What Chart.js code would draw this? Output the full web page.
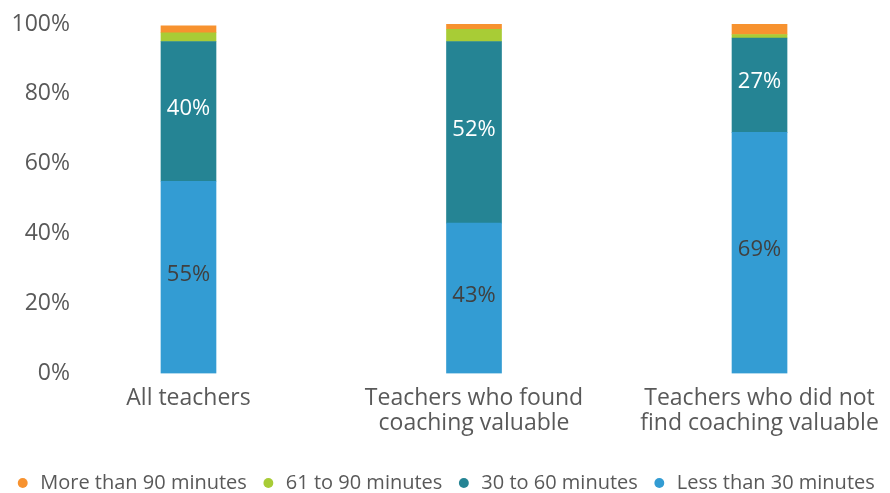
<!DOCTYPE html>
<html>
<head>
<meta charset="utf-8">
<script src="https://cdn.jsdelivr.net/npm/chart.js@4.4.0/dist/chart.umd.min.js"></script>
<style>
  html, body { margin: 0; padding: 0; background: #fff; }
  #wrap { width: 890px; height: 493px; }
</style>
</head>
<body>
<div id="wrap"><canvas id="chart"></canvas></div>
<script>
// categories (wrapped the way the original shows them)
const categories = [
  ['All teachers'],
  ['Teachers who found', 'coaching valuable'],
  ['Teachers who did not', 'find coaching valuable']
];
const seriesNames = ['Less than 30 minutes', '30 to 60 minutes', '61 to 90 minutes', 'More than 90 minutes'];
const under30 = [55, 43, 69];
const from30to60 = [40, 52, 27];
const from61to90 = [2.5, 3.5, 1];
const over90 = [2, 1.5, 3];
const yTicks = [0, 20, 40, 60, 80, 100];

const colors = ['#339CD3', '#258494', '#A8CC36', '#F7922F'];
const labelColors = ['#404040', '#ffffff', null, null];

Chart.defaults.font.family = '"Open Sans", sans-serif';
Chart.defaults.color = '#595959';

// percent labels inside the two big segments
const segmentLabels = {
  id: 'segmentLabels',
  afterDatasetsDraw(chart) {
    const ctx = chart.ctx;
    ctx.save();
    ctx.font = '22px "Open Sans"';
    ctx.textAlign = 'center';
    ctx.textBaseline = 'middle';
    chart.data.datasets.forEach((ds, di) => {
      if (!ds.labelColor) return;
      chart.getDatasetMeta(di).data.forEach((bar, i) => {
        const p = bar.getCenterPoint();
        ctx.fillStyle = ds.labelColor;
        ctx.fillText(Math.round(ds.data[i].y) + '%', p.x, p.y - 3);
      });
    });
    ctx.restore();
  }
};

const series = [under30, from30to60, from61to90, over90];

new Chart(document.getElementById('chart'), {
  type: 'bar',
  data: {
    datasets: series.map((vals, k) => ({
      label: seriesNames[k],
      data: vals.map((v, i) => ({ x: i, y: v })),
      backgroundColor: colors[k],
      labelColor: labelColors[k],
      barThickness: 55,
      borderWidth: 0
    }))
  },
  options: {
    responsive: true,
    maintainAspectRatio: false,
    animation: false,
    layout: { padding: { top: 24, right: 0, left: 0, bottom: -10 } },
    plugins: {
      legend: {
        position: 'bottom',
        reverse: true,
        labels: {
          usePointStyle: true,
          pointStyle: 'circle',
          boxWidth: 15,
          boxHeight: 7,
          padding: 14,
          font: { size: 20 },
          color: '#595959'
        }
      },
      tooltip: { enabled: false }
    },
    scales: {
      x: {
        type: 'linear',
        stacked: true,
        offset: false,
        min: -0.387,
        max: 2.457,
        grid: { display: false },
        border: { display: false },
        afterFit: (scale) => { scale.height += 19; },
        afterBuildTicks: (scale) => { scale.ticks = categories.map((_, i) => ({ value: i })); },
        ticks: {
          autoSkip: false,
          maxRotation: 0,
          padding: 4,
          font: { size: 23, lineHeight: 1.1 },
          color: '#595959',
          callback: (v) => categories[v]
        }
      },
      y: {
        stacked: true,
        min: 0,
        max: 100,
        grid: { display: false },
        border: { display: false },
        afterFit: (scale) => { scale.width = 78; },
        afterBuildTicks: (scale) => { scale.ticks = yTicks.map(v => ({ value: v })); },
        ticks: {
          padding: 0,
          font: { size: 23 },
          color: '#595959',
          callback: (v) => v + '%'
        }
      }
    }
  },
  plugins: [segmentLabels]
});
</script>
</body>
</html>
